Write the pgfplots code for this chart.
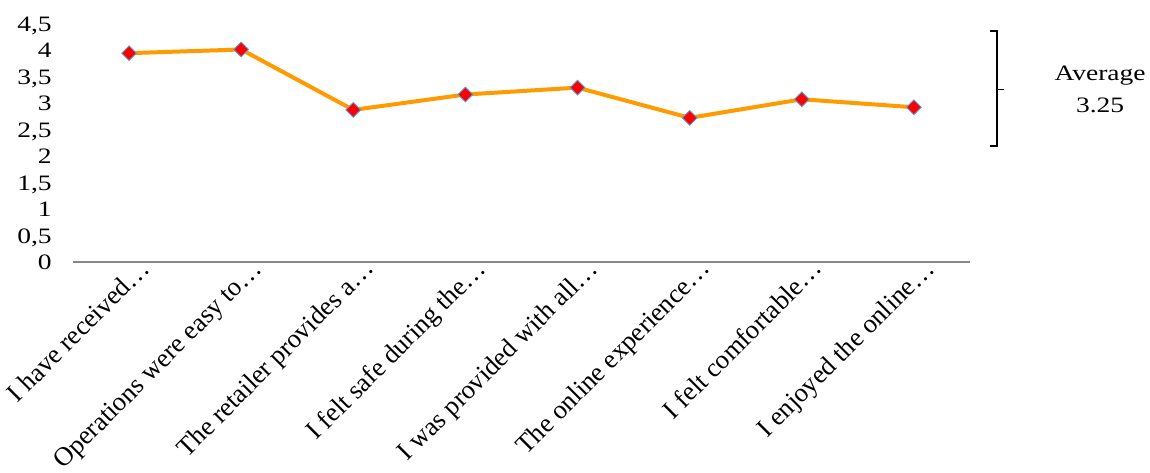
\documentclass[border=0pt]{standalone}
\usepackage{fontspec}
\setmainfont{Liberation Serif}[FakeStretch=1.25]
\newfontfamily\catfont{Liberation Serif}
\usepackage{pgfplots}
\pgfplotsset{compat=1.18}

\definecolor{lineorange}{RGB}{255,155,0}
\definecolor{markred}{RGB}{255,0,0}
\definecolor{markedge}{RGB}{91,155,213}
\definecolor{axisgray}{RGB}{134,134,134}

\begin{document}
\begin{tikzpicture}
\path[use as bounding box] (-73pt,-210pt) rectangle (1077pt,262pt);
\begin{axis}[
  scale only axis,
  width=897pt, height=238.5pt,
  xmin=-0.5, xmax=7.5,
  ymin=0, ymax=4.5,
  clip=false,
  axis lines=left,
  axis line style={-},
  y axis line style={draw=none},
  x axis line style={draw=axisgray, line width=1.3pt},
  tick style={draw=none},
  ytick={0,0.5,...,4.5},
  /pgf/number format/use comma,
  /pgf/number format/assume math mode=true,
  yticklabel style={font=\fontsize{22}{24}\selectfont, anchor=base east,
    inner sep=0pt, xshift=-19pt, yshift=-7.5pt},
  xtick={0,...,7},
  xticklabels={I have received\dots, Operations were easy to\dots,
    The retailer provides a\dots, I felt safe during the\dots,
    I was provided with all\dots, The online experience\dots,
    I felt comfortable\dots, I enjoyed the online\dots},
  xticklabel style={font=\catfont\fontsize{26.5}{29}\selectfont, inner sep=0pt,
    xshift=22pt, yshift=-6pt, rotate=45, anchor=base east},
]
\addplot[lineorange, line width=4pt,
  mark=square*, mark size=5.2pt,
  mark options={rotate=45, fill=markred, draw=markedge, line width=0.9pt}]
  coordinates {(0,3.94) (1,4.01) (2,2.87) (3,3.16) (4,3.29) (5,2.72) (6,3.07) (7,2.92)};

% bracket spanning the scores, centred on the average
\draw[black, line width=1.3pt]
  (axis cs:7.68,4.36) -- (axis cs:7.74,4.36) -- (axis cs:7.74,2.19) -- (axis cs:7.68,2.19);
\draw[black, line width=1.3pt] (axis cs:7.74,3.25) -- (axis cs:7.80,3.25);
\node[align=center, font=\fontsize{22}{32}\selectfont] at (axis cs:8.66,3.25) {Average\\3.25};
\end{axis}
\end{tikzpicture}
\end{document}
